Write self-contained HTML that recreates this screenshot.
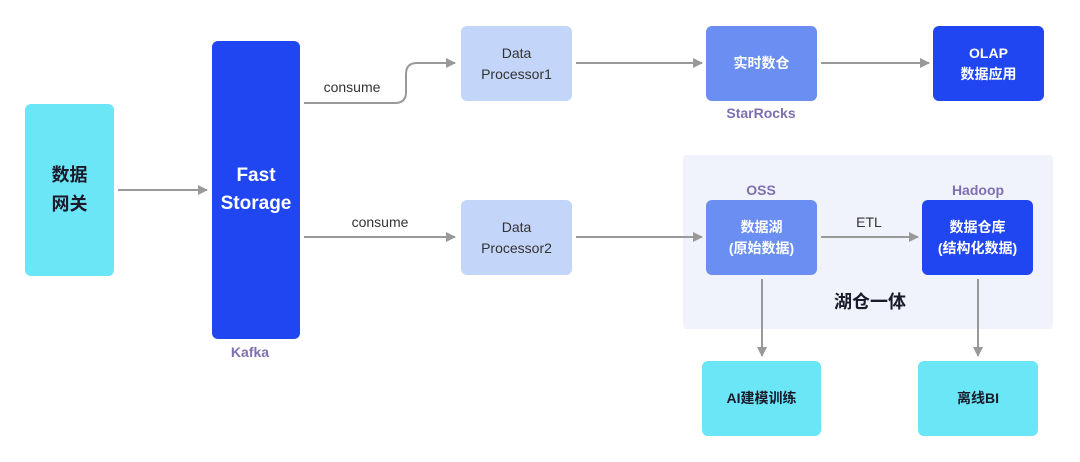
<!DOCTYPE html>
<html><head><meta charset="utf-8"><style>
body{margin:0;width:1080px;height:462px;background:#fff;position:relative;overflow:hidden;font-family:"Liberation Sans","Noto Sans CJK SC",sans-serif}
.b{position:absolute;border-radius:6px;display:flex;align-items:center;justify-content:center;text-align:center;font-size:14px;line-height:21px}
.t{position:absolute;transform:translate(-50%,-50%);white-space:nowrap}
.p{color:#7f6fb0;font-weight:bold;font-size:14px}
</style></head><body>
<div class="b" style="left:683px;top:155px;width:370px;height:174px;background:#f0f3fb;border-radius:4px"></div>
<div class="b" style="left:25px;top:104px;width:89px;height:172px;background:#6ae6f6;color:#1a1a2a;font-weight:bold;font-size:18px;line-height:29px">数据<br>网关</div>
<div class="b" style="left:212px;top:41px;width:88px;height:298px;background:#1f46f0;color:#fff;font-weight:bold;font-size:19px;line-height:28px">Fast<br>Storage</div>
<div class="b" style="left:461px;top:26px;width:111px;height:75px;background:#c3d5f8;color:#333">Data<br>Processor1</div>
<div class="b" style="left:461px;top:200px;width:111px;height:75px;background:#c3d5f8;color:#333">Data<br>Processor2</div>
<div class="b" style="left:706px;top:26px;width:111px;height:75px;background:#6a8ef2;color:#fff;font-weight:bold">实时数仓</div>
<div class="b" style="left:933px;top:26px;width:111px;height:75px;background:#1f46f0;color:#fff;font-weight:bold">OLAP<br>数据应用</div>
<div class="b" style="left:706px;top:200px;width:111px;height:75px;background:#6a8ef2;color:#fff;font-weight:bold">数据湖<br>(原始数据)</div>
<div class="b" style="left:922px;top:200px;width:111px;height:75px;background:#1f46f0;color:#fff;font-weight:bold">数据仓库<br>(结构化数据)</div>
<div class="b" style="left:702px;top:361px;width:119px;height:75px;background:#6ae6f6;color:#1a1a2a;font-weight:bold">AI建模训练</div>
<div class="b" style="left:918px;top:361px;width:120px;height:75px;background:#6ae6f6;color:#1a1a2a;font-weight:bold">离线BI</div>
<div class="t p" style="left:250px;top:352px">Kafka</div>
<div class="t p" style="left:761px;top:113px">StarRocks</div>
<div class="t p" style="left:761px;top:190px">OSS</div>
<div class="t p" style="left:978px;top:190px">Hadoop</div>
<div class="t" style="left:870px;top:301px;font-weight:bold;font-size:18px;color:#1a1a2a">湖仓一体</div>
<div class="t" style="left:352px;top:87px;font-size:14px;color:#333">consume</div>
<div class="t" style="left:380px;top:222px;font-size:14px;color:#333">consume</div>
<div class="t" style="left:869px;top:222px;font-size:14px;color:#333">ETL</div>
<svg width="1080" height="462" style="position:absolute;left:0;top:0">
<defs><marker id="a" markerWidth="10" markerHeight="10" refX="9" refY="5" orient="auto" markerUnits="userSpaceOnUse"><path d="M0,0L10,5L0,10z" fill="#999"/></marker></defs>
<g stroke="#999" stroke-width="2" fill="none" marker-end="url(#a)">
<path d="M118,190H207"/>
<path d="M304,103H395Q406,103 406,92V74Q406,63 417,63H455"/>
<path d="M304,237H455"/>
<path d="M576,63H702"/>
<path d="M821,63H929"/>
<path d="M576,237H702"/>
<path d="M821,237H918"/>
<path d="M762,279V356"/>
<path d="M978,279V356"/>
</g></svg>
</body></html>
